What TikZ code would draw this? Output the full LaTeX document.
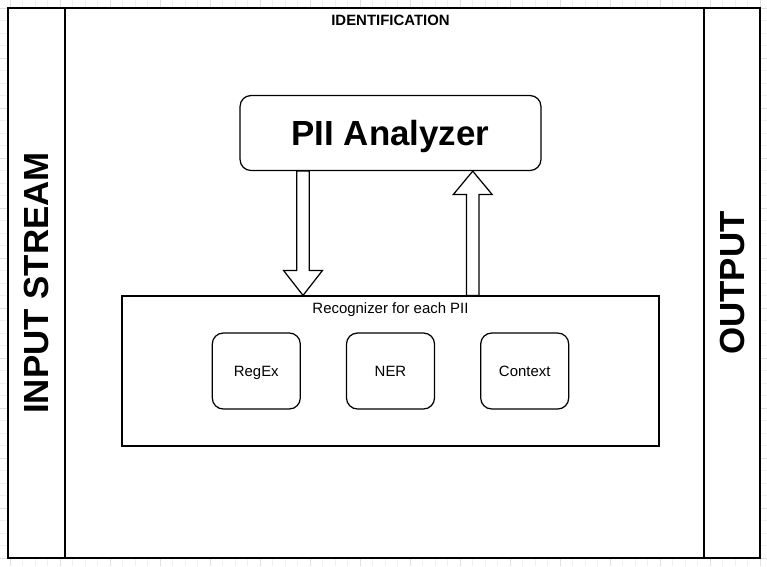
\documentclass[tikz,border=0pt]{standalone}
\usepackage{fontspec}
\setmainfont{Liberation Sans}
\usetikzlibrary{positioning,calc}

\begin{document}
\begin{tikzpicture}[x=0.02cm, y=-0.02cm, line width=0.7pt, node distance=0.9cm]
  \tikzstyle{panel} = [draw=black, fill=white, inner sep=0pt]
  \tikzstyle{bigword} = [font=\fontsize{19.85}{24}\selectfont\bfseries, text depth=0pt]
  \tikzstyle{word} = [font=\fontsize{8.5}{10}\selectfont, text depth=0pt]
  \tikzstyle{title} = [font=\fontsize{8.5}{10}\selectfont\bfseries, text depth=0pt]
  \tikzstyle{box} = [draw=black, fill=white, rounded corners=0.22cm, inner sep=0pt]
  \tikzstyle{blockarrow} = [draw=black, fill=white, line join=miter]
  \tikzstyle{gridminor} = [line width=0.5pt, color=black!6]
  \tikzstyle{gridmajor} = [line width=0.5pt, color=black!12]
  \useasboundingbox (0,0) rectangle (767,566);
  % background grid
  \foreach \gx in {-2.5,10,...,767} \draw[gridminor] (\gx,0) -- (\gx,566);
  \foreach \gy in {-4.5,8,...,566} \draw[gridminor] (0,\gy) -- (767,\gy);
  \foreach \gx in {10,60,...,760} \draw[gridmajor] (\gx,0) -- (\gx,566);
  \foreach \gy in {8,58,...,558} \draw[gridmajor] (0,\gy) -- (767,\gy);
  % three columns
  \node[panel, bigword, rotate=90, minimum width=11cm, minimum height=1.14cm] (instream) at (36.5,283) {INPUT STREAM};
  \node[panel, minimum width=12.78cm, minimum height=11cm] (ident) at (384.5,283) {};
  \node[panel, bigword, rotate=90, minimum width=11cm, minimum height=1.12cm] (output) at (732,283) {OUTPUT};
  % analyzer and recognizers
  \node[box, bigword, minimum width=6.02cm, minimum height=1.5cm] (analyzer) at (390.5,133) {PII Analyzer};
  \node[title] (identlabel) at ([yshift=-0.25cm]analyzer.north |- ident.north) {IDENTIFICATION};
  \node[panel, minimum width=10.74cm, minimum height=3cm] (recog) at (390.5,371) {};
  \node[word] (recoglabel) at ([yshift=-0.25cm]recog.north) {Recognizer for each PII};
  \node[box, word, minimum width=1.76cm, minimum height=1.52cm] (ner) at (recog.center) {NER};
  \node[box, word, minimum width=1.76cm, minimum height=1.52cm, left=of ner] (regex) {RegEx};
  \node[box, word, minimum width=1.76cm, minimum height=1.52cm, right=of ner] (context) {Context};
  % block arrows
  \coordinate (downtop) at ([xshift=-1.75cm]analyzer.south);
  \coordinate (downtip) at (downtop |- recog.north);
  \draw[blockarrow] ([xshift=-0.125cm]downtop) -- ([xshift=-0.125cm,yshift=0.5cm]downtip)
    -- ([xshift=-0.39cm,yshift=0.5cm]downtip) -- (downtip) -- ([xshift=0.39cm,yshift=0.5cm]downtip)
    -- ([xshift=0.125cm,yshift=0.5cm]downtip) -- ([xshift=0.125cm]downtop) -- cycle;
  \coordinate (uptail) at ([xshift=1.645cm]recog.north);
  \coordinate (uptip) at (uptail |- analyzer.south);
  \draw[blockarrow] ([xshift=-0.125cm]uptail) -- ([xshift=-0.125cm,yshift=-0.47cm]uptip)
    -- ([xshift=-0.39cm,yshift=-0.47cm]uptip) -- (uptip) -- ([xshift=0.39cm,yshift=-0.47cm]uptip)
    -- ([xshift=0.125cm,yshift=-0.47cm]uptip) -- ([xshift=0.125cm]uptail) -- cycle;
\end{tikzpicture}
\end{document}
